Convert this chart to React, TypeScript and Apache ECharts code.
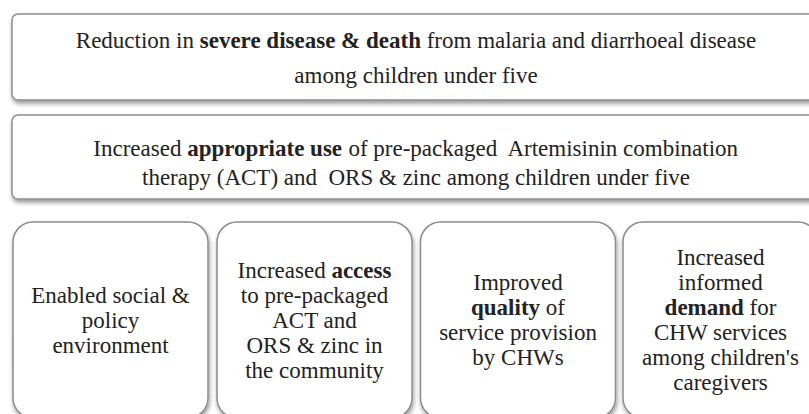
import React, { useEffect, useRef } from "react";
import * as echarts from "echarts";

// Diagram content, one entry per text line; {b|...} marks bold words
const outcomeLines = [
  "Reduction in {b|severe disease & death} from malaria and diarrhoeal disease",
  "among children under five",
];
const useLines = [
  "Increased {b|appropriate use} of pre-packaged  Artemisinin combination",
  "therapy (ACT) and  ORS & zinc among children under five",
];
const driverLines = [
  ["Enabled social &", "policy", "environment"],
  ["Increased {b|access}", "to pre-packaged", "ACT and", "ORS & zinc in", "the community"],
  ["Improved", "{b|quality} of", "service provision", "by CHWs"],
  ["Increased", "informed", "{b|demand} for", "CHW services", "among children's", "caregivers"],
];

const FONT_N = "23px Liberation Serif";
const FONT_B = "bold 23px Liberation Serif";
const LEFTS = [13, 217, 420.5, 623];
const W = 195;

function lineText(text: string, cx: number, cy: number) {
  return {
    type: "text",
    x: cx,
    y: cy - 11.5,
    style: {
      text,
      font: FONT_N,
      fill: "#222",
      align: "center",
      rich: { b: { font: FONT_B } },
    },
  };
}

function boxStyle() {
  return {
    fill: "#fff",
    stroke: "#8c8c8c",
    lineWidth: 1.5,
    shadowBlur: 4,
    shadowOffsetX: 1,
    shadowOffsetY: 3,
    shadowColor: "rgba(0,0,0,0.4)",
  };
}

const layer: React.CSSProperties = { position: "fixed", left: 0, top: 0, width: 809, height: 414 };

export default function App() {
  const boxRef = useRef<HTMLDivElement>(null);
  const textRef = useRef<HTMLDivElement>(null);
  useEffect(() => {
    if (!boxRef.current || !textRef.current) return;
    const boxChart = echarts.init(boxRef.current, undefined, { renderer: "svg" });
    const textChart = echarts.init(textRef.current, undefined, { renderer: "svg" });

    const boxes: any[] = [
      { type: "rect", shape: { x: 12, y: 14, width: 830, height: 86, r: 6 }, style: boxStyle() },
      { type: "rect", shape: { x: 12, y: 115, width: 830, height: 84, r: 6 }, style: boxStyle() },
    ];
    LEFTS.forEach((l) => {
      boxes.push({ type: "rect", shape: { x: l, y: 222, width: W, height: 196, r: 20 }, style: boxStyle() });
    });

    const texts: any[] = [];
    outcomeLines.forEach((t, i) => texts.push(lineText(t, 416, 40 + i * 35)));
    useLines.forEach((t, i) => texts.push(lineText(t, 416, 148 + i * 29.5)));
    driverLines.forEach((lines, i) => {
      lines.forEach((t, j) => {
        texts.push(lineText(t, LEFTS[i] + W / 2, 320 + (j - (lines.length - 1) / 2) * 25));
      });
    });

    boxChart.setOption({ animation: false, graphic: { elements: boxes } });
    textChart.setOption({ animation: false, graphic: { elements: texts } });
    return () => {
      boxChart.dispose();
      textChart.dispose();
    };
  }, []);
  return (
    <div style={{ ...layer, background: "#fff" }}>
      <div ref={boxRef} style={layer} />
      <div ref={textRef} style={layer} />
    </div>
  );
}
